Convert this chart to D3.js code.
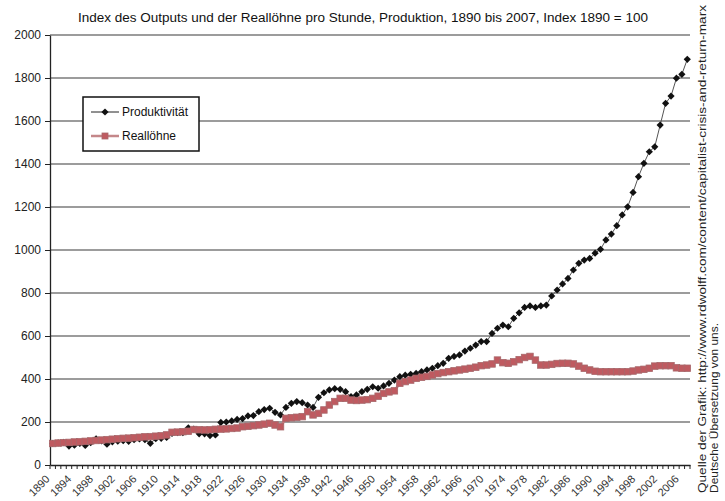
<!DOCTYPE html>
<html>
<head>
<meta charset="utf-8">
<script src="https://cdn.jsdelivr.net/npm/d3@7/dist/d3.min.js"></script>
<style>
  html, body { margin: 0; padding: 0; background: #fff; }
  svg { display: block; }
  text { font-family: "Liberation Sans", Arial, sans-serif; }
</style>
</head>
<body>
<svg id="chart" width="725" height="501"></svg>
<script>
// ---- Data ----
const title = "Index des Outputs und der Reallöhne pro Stunde, Produktion, 1890 bis 2007, Index 1890 = 100";
const sourceLine1 = "Quelle der Grafik: http://www.rdwolff.com/content/capitalist-crisis-and-return-marx";
const sourceLine2 = "Deutsche Übersetzung von uns.";
const seriesNames = ["Produktivität", "Reallöhne"];

const years = d3.range(1890, 2008);

const produktivitaet = [
  100, 103, 105, 88, 92, 100, 91, 104, 122, 112,      // 1890-1899
  97, 108, 111, 113, 110, 118, 121, 118, 101, 122,    // 1900-1909
  124, 128, 147, 150, 150, 173, 167, 145, 145, 137,   // 1910-1919
  140, 198, 200, 205, 212, 216, 228, 230, 248, 258,   // 1920-1929
  264, 245, 233, 268, 287, 295, 290, 279, 268, 315,   // 1930-1939
  336, 349, 355, 352, 341, 318, 326, 341, 352, 364,   // 1940-1949
  357, 368, 380, 395, 411, 418, 422, 426, 434, 442,   // 1950-1959
  450, 462, 473, 496, 505, 512, 530, 543, 558, 574,   // 1960-1969
  574, 612, 636, 651, 643, 682, 708, 733, 740, 733,   // 1970-1979
  740, 744, 786, 814, 842, 868, 907, 938, 953, 961,   // 1980-1989
  985, 1003, 1047, 1074, 1113, 1163, 1201, 1268, 1341, 1403, // 1990-1999
  1457, 1480, 1581, 1682, 1716, 1799, 1817, 1887      // 2000-2007
];

const realloehne = [
  100, 102, 104, 105, 107, 108, 110, 112, 114, 116,   // 1890-1899
  118, 120, 122, 124, 125, 127, 129, 131, 132, 134,   // 1900-1909
  136, 140, 152, 153, 155, 157, 165, 164, 163, 164,   // 1910-1919
  166, 167, 168, 170, 172, 178, 180, 183, 186, 190,   // 1920-1929
  194, 186, 178, 217, 220, 222, 225, 248, 233, 240,   // 1930-1939
  256, 279, 295, 310, 310, 302, 300, 302, 304, 310,   // 1940-1949
  320, 333, 340, 345, 380, 388, 395, 403, 408, 412,   // 1950-1959
  419, 425, 430, 434, 438, 442, 446, 450, 455, 462,   // 1960-1969
  465, 470, 488, 476, 473, 480, 490, 500, 505, 488,   // 1970-1979
  465, 465, 468, 472, 473, 473, 470, 460, 450, 442,   // 1980-1989
  436, 434, 434, 434, 434, 434, 434, 437, 442, 445,   // 1990-1999
  450, 460, 462, 462, 462, 452, 450, 450              // 2000-2007
];

const yTicks = [0, 200, 400, 600, 800, 1000, 1200, 1400, 1600, 1800, 2000];
const xLabelYears = d3.range(1890, 2008, 4);

// ---- Layout ----
const svg = d3.select("#chart");
const mLeft = 50, mRight = 690, mTop = 35, mBottom = 465;

const x = d3.scaleBand().domain(years).range([mLeft, mRight]).padding(0);
const y = d3.scaleLinear().domain([0, 2000]).range([mBottom, mTop]);
const cx = d => x(d) + x.bandwidth() / 2;

// Title
svg.append("text")
  .attr("x", 363).attr("y", 22)
  .attr("text-anchor", "middle")
  .attr("font-size", 12.5)
  .attr("fill", "#111")
  .attr("textLength", 570).attr("lengthAdjust", "spacingAndGlyphs")
  .text(title);

// Gridlines
svg.append("g")
  .selectAll("line")
  .data(yTicks.filter(t => t > 0))
  .join("line")
  .attr("x1", mLeft).attr("x2", mRight)
  .attr("y1", d => y(d)).attr("y2", d => y(d))
  .attr("stroke", "#3a3a3a").attr("stroke-width", 1.2);

// Y axis
const yAxis = svg.append("g")
  .attr("transform", `translate(${mLeft},0)`)
  .call(d3.axisLeft(y).tickValues(yTicks).tickSize(5).tickSizeOuter(0).tickFormat(d3.format("d")));
yAxis.select(".domain").attr("stroke", "#222").attr("stroke-width", 1.3);
yAxis.selectAll(".tick line").attr("stroke", "#222");
yAxis.selectAll("text")
  .attr("font-family", "Liberation Sans, Arial, sans-serif")
  .attr("font-size", 12).attr("fill", "#222").attr("x", -9);

// X axis (labels at category centres)
const xAxis = svg.append("g")
  .attr("transform", `translate(0,${mBottom})`)
  .call(d3.axisBottom(x).tickValues(xLabelYears).tickSize(0).tickSizeOuter(0));
xAxis.select(".domain").attr("stroke", "#222").attr("stroke-width", 1.3);
xAxis.selectAll("text")
  .attr("font-family", "Liberation Sans, Arial, sans-serif")
  .attr("font-size", 11).attr("fill", "#333")
  .attr("x", 0).attr("y", 0).attr("dy", "0.35em")
  .attr("text-anchor", "end")
  .attr("transform", "translate(-5,12) rotate(-45)");

// Category boundary tick marks
svg.append("g")
  .selectAll("line")
  .data(years.concat([2008]))
  .join("line")
  .attr("x1", d => d === 2008 ? mRight : x(d))
  .attr("x2", d => d === 2008 ? mRight : x(d))
  .attr("y1", mBottom).attr("y2", mBottom + 4)
  .attr("stroke", "#222").attr("stroke-width", 1);

// Series: Produktivität
const pData = years.map((yr, i) => ({ yr, v: produktivitaet[i] }));
const wData = years.map((yr, i) => ({ yr, v: realloehne[i] }));
const line = d3.line().x(d => cx(d.yr)).y(d => y(d.v));

svg.append("path")
  .datum(pData)
  .attr("d", line)
  .attr("fill", "none").attr("stroke", "#555").attr("stroke-width", 1);

const diamond = d3.symbol().type(d3.symbolSquare).size(26);
svg.append("g")
  .selectAll("path")
  .data(pData)
  .join("path")
  .attr("d", diamond)
  .attr("transform", d => `translate(${cx(d.yr)},${y(d.v)}) rotate(45)`)
  .attr("fill", "#111");

// Series: Reallöhne
svg.append("path")
  .datum(wData)
  .attr("d", line)
  .attr("fill", "none").attr("stroke", "#c4787c").attr("stroke-width", 2.5);

const sq = 6.5;
svg.append("g")
  .selectAll("rect")
  .data(wData)
  .join("rect")
  .attr("x", d => cx(d.yr) - sq / 2)
  .attr("y", d => y(d.v) - sq / 2)
  .attr("width", sq).attr("height", sq)
  .attr("fill", "#bf5a60").attr("stroke", "#a8686b").attr("stroke-width", 0.8);

// Legend
const lg = svg.append("g").attr("transform", "translate(83,97)");
lg.append("rect")
  .attr("width", 116).attr("height", 54)
  .attr("fill", "#fff").attr("stroke", "#111").attr("stroke-width", 1.5);
lg.append("line").attr("x1", 8).attr("x2", 36).attr("y1", 15).attr("y2", 15)
  .attr("stroke", "#222").attr("stroke-width", 1);
lg.append("path").attr("d", diamond).attr("transform", "translate(22,15) rotate(45)").attr("fill", "#111");
lg.append("text").attr("x", 39).attr("y", 15).attr("dy", "0.35em")
  .attr("font-size", 12).attr("fill", "#111").text(seriesNames[0]);
lg.append("line").attr("x1", 8).attr("x2", 36).attr("y1", 39).attr("y2", 39)
  .attr("stroke", "#c4878a").attr("stroke-width", 2.5);
lg.append("rect").attr("x", 19).attr("y", 36).attr("width", 6).attr("height", 6)
  .attr("fill", "#bf5a60").attr("stroke", "#a8686b").attr("stroke-width", 0.8);
lg.append("text").attr("x", 39).attr("y", 39).attr("dy", "0.35em")
  .attr("font-size", 12).attr("fill", "#111").text(seriesNames[1]);

// Source text (rotated)
svg.append("text")
  .attr("transform", "translate(706,493) rotate(-90)")
  .attr("font-family", "DejaVu Sans, sans-serif")
  .attr("font-size", 10.5).attr("fill", "#222")
  .attr("textLength", 488).attr("lengthAdjust", "spacingAndGlyphs")
  .text(sourceLine1);
svg.append("text")
  .attr("transform", "translate(718,493) rotate(-90)")
  .attr("font-family", "DejaVu Sans, sans-serif")
  .attr("font-size", 10.5).attr("fill", "#222")
  .attr("textLength", 170).attr("lengthAdjust", "spacingAndGlyphs")
  .text(sourceLine2);
</script>
</body>
</html>
